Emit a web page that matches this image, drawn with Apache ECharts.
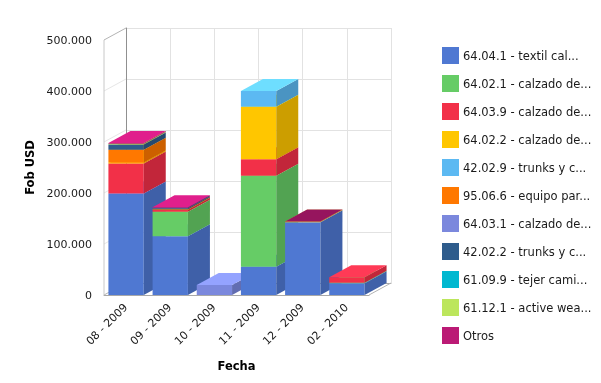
<!DOCTYPE html>
<html>
<head>
<meta charset="utf-8">
<style>html,body{margin:0;padding:0;background:#fff}#root{width:601px;height:383px}</style>
<script src="https://cdn.jsdelivr.net/npm/echarts@6/dist/echarts.min.js"></script>
</head>
<body>
<div id="root"></div>
<script>
let categories = ['08 - 2009','09 - 2009','10 - 2009','11 - 2009','12 - 2009','02 - 2010'];
let yTicks = [0,100000,200000,300000,400000,500000];

// valores, en USD
let s640410 = [199000,115000,0,55500,142500,23000];
let s640210 = [0,48000,0,178500,0,1000];
let s640390 = [59000,4000,0,32000,0,11000];
let s640220 = [2000,500,0,103000,1000,0];
let s420290 = [0,0,0,31000,0,0];
let s950660 = [25000,500,0,0,0,0];
let s640310 = [0,0,19500,0,0,0];
let s420220 = [10000,1500,0,0,0,0];
let s610990 = [0,500,0,0,0,0];
let s611210 = [1500,0,0,0,0,0];
let otros = [1500,1900,0,0,500,0];

let names = ['64.04.1 - textil cal...','64.02.1 - calzado de...','64.03.9 - calzado de...','64.02.2 - calzado de...','42.02.9 - trunks y c...','95.06.6 - equipo par...','64.03.1 - calzado de...','42.02.2 - trunks y c...','61.09.9 - tejer cami...','61.12.1 - active wea...','Otros'];
let colors = ['#4f78d2','#66cc66','#f23048','#ffc600','#5cb9f2','#ff7800','#7b88dd','#2e5c8c','#00b8d0','#bce65c','#bb1a75'];
let rows = [s640410,s640210,s640390,s640220,s420290,s950660,s640310,s420220,s610990,s611210,otros];

let depthX = 22, depthY = -12;
let font = 'Verdana, "DejaVu Sans", sans-serif';

function shade(hex, k) {
    let n = parseInt(hex.slice(1), 16);
    let c = [n >> 16, (n >> 8) & 255, n & 255].map(v => Math.min(255, Math.round(v * k)));
    return 'rgb(' + c.join(',') + ')';
}

function poly(points, fill, z2) {
    return {type:'polygon', shape:{points}, style:{fill}, z2, silent:true};
}

// cada segmento: cara frontal, lateral y tapa
function renderSegment(si) {
    return function (params, api) {
        let i = api.value(0), v = rows[si][i];
        if (!v) return {type:'group', children:[]};
        let base = 0;
        for (let k = 0; k < si; k++) base += rows[k][i];
        let w = api.size([1, 0])[0] * 0.8;
        let p0 = api.coord([i, base]), p1 = api.coord([i, base + v]);
        let l = p0[0] - w / 2, r = p0[0] + w / 2;
        let y0 = p0[1], y1 = p1[1];
        let z = i * 100 + si * 4;
        let front = colors[si];
        // una tapa muy fina queda con el tono de la cara lateral
        let top = v < 1000 ? shade(front, 0.8) : shade(front, 1.2);
        return {type:'group', children:[
            poly([[l,y0],[r,y0],[r,y1],[l,y1]], front, z),
            poly([[r,y0],[r+depthX,y0+depthY],[r+depthX,y1+depthY],[r,y1]], shade(front, 0.8), z + 1),
            poly([[l,y1],[r,y1],[r+depthX,y1+depthY],[l+depthX,y1+depthY]], top, z + 2)
        ]};
    };
}

// diagonales de la pared izquierda y del piso
function renderWall(params, api) {
    let v = yTicks[api.value(0)];
    let a = api.coord([0, v]);
    let x0 = a[0] - api.size([1, 0])[0] / 2;
    let last = v === 500000 || v === 0;
    let children = [{type:'line', shape:{x1:x0,y1:a[1],x2:x0+depthX,y2:a[1]-12}, style:{stroke:last?'#b4b4b4':'#e6e6e6',lineWidth:1}, z2:-1, silent:true}];
    if (v === 0) {
        let x1 = x0 + api.size([1, 0])[0] * categories.length;
        children.push({type:'line', shape:{x1:x1,y1:a[1],x2:x1+depthX,y2:a[1]-12}, style:{stroke:'#b4b4b4',lineWidth:1}, z2:-1, silent:true});
    }
    if (v === 500000) {
        children.push({type:'line', shape:{x1:x0,y1:a[1],x2:x0,y2:api.coord([0,0])[1]}, style:{stroke:'#c8c8c8',lineWidth:1}, z2:-1, silent:true});
    }
    return {type:'group', children};
}

let series = names.map((name, si) => ({
    name,
    type:'custom',
    xAxisIndex:0,
    yAxisIndex:0,
    itemStyle:{color:colors[si]},
    renderItem:renderSegment(si),
    encode:{x:0, y:1},
    data:categories.map((c, i) => [i, rows[si][i]]),
    clip:false,
    silent:true
}));
series.unshift({
    type:'custom',
    xAxisIndex:0,
    yAxisIndex:0,
    renderItem:renderWall,
    encode:{x:0, y:1},
    data:yTicks.map((t, i) => [i, t]),
    clip:false,
    silent:true,
    z:1
});

let myCharts = echarts.init(document.getElementById('root'), null, {renderer:'canvas'});
let option = {
    animation:false,
    backgroundColor:'#fff',
    legend:{
        orient:'vertical',
        left:442,
        top:47,
        padding:0,
        itemWidth:17,
        itemHeight:17,
        itemGap:11,
        icon:'rect',
        selectedMode:false,
        data:names,
        formatter:n => '{a|' + n + '}',
        textStyle:{
            rich:{a:{fontFamily:font, fontSize:11.5, color:'#1a1a1a', padding:[3,0,0,-1]}}
        }
    },
    grid:[
        {left:104, top:40, width:265, height:255},
        {left:126, top:28, width:265, height:255}
    ],
    xAxis:[
        {
            gridIndex:0,
            type:'category',
            data:categories,
            name:'Fecha',
            nameLocation:'middle',
            nameGap:66,
            nameTextStyle:{fontFamily:font, fontSize:11.5, fontWeight:'bold', color:'#000'},
            axisLine:{lineStyle:{color:'#a8a8a8'}},
            axisTick:{show:false},
            axisLabel:{rotate:45, interval:0, margin:11, fontFamily:font, fontSize:11, color:'#1a1a1a'}
        },
        {
            gridIndex:1,
            type:'category',
            data:categories,
            position:'top',
            axisLine:{show:true, lineStyle:{color:'#a8a8a8'}},
            axisTick:{show:false},
            axisLabel:{show:false},
            splitLine:{show:true, interval:0, lineStyle:{color:'#e2e2e2'}}
        }
    ],
    yAxis:[
        {
            gridIndex:0,
            type:'value',
            min:0,
            max:500000,
            interval:100000,
            name:'Fob USD',
            nameLocation:'middle',
            nameGap:67,
            nameTextStyle:{fontFamily:font, fontSize:11.5, fontWeight:'bold', color:'#000'},
            axisLine:{show:false},
            axisTick:{show:false},
            splitLine:{show:false},
            axisLabel:{
                margin:12,
                formatter:v => '{a|' + String(v).replace(/\B(?=(\d{3})+$)/g, '.') + '}',
                rich:{a:{fontFamily:font, fontSize:11, color:'#1a1a1a', padding:[3,0,0,0]}}
            }
        },
        {
            gridIndex:1,
            type:'value',
            min:0,
            max:500000,
            interval:100000,
            axisLine:{show:true, lineStyle:{color:'#909090'}},
            axisTick:{show:false},
            axisLabel:{show:false},
            splitLine:{lineStyle:{color:'#e2e2e2'}}
        }
    ],
    series
};
myCharts.setOption(option);
</script>
</body>
</html>
